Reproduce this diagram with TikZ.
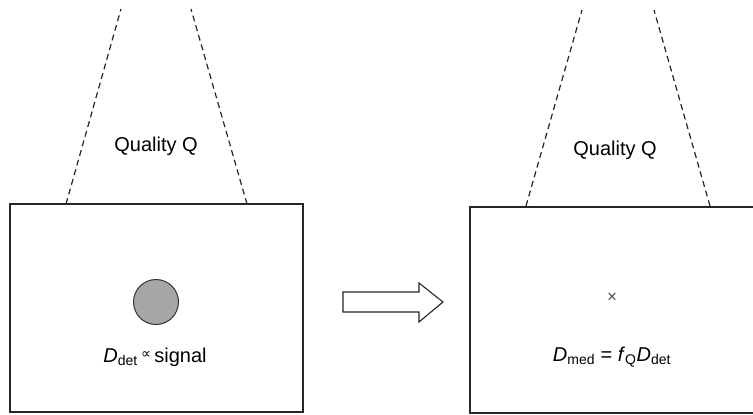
\documentclass[tikz,border=0pt]{standalone}
\usepackage{fontspec}
\setmainfont{Liberation Sans}
\newfontfamily\dejavu{DejaVu Sans}
\begin{document}
\begin{tikzpicture}[x=1pt,y=-1pt,
  frame/.style={draw=black!85, line width=1.3pt},
  cone/.style={draw=black!85, line width=1.2pt, dash pattern=on 6pt off 4pt},
  lbl/.style={font=\fontsize{20}{24}\selectfont, inner sep=0pt},
  spot/.style={circle, draw=black!80, fill=black!35, line width=1pt, minimum size=45pt, inner sep=0pt},
  bigarrow/.style={draw=black!85, line width=1.1pt, fill=white}]
\useasboundingbox (0,0) rectangle (753,415);
% left panel
\draw[frame] (10,204) rectangle (303,412);
\draw[cone] (66,204) -- (121,9);
\draw[cone] (247,204) -- (191,9);
\node[lbl] (q1) at (156,146) {Quality Q};
\node[spot] (c1) at (156,302) {};
\node[lbl] (t1) at (155,357) {\textit{D}\textsubscript{det}\,{\dejavu\raisebox{0.3ex}{\fontsize{14}{14}\selectfont ∝}}\,signal};
% arrow
\draw[bigarrow] (343,292) -- (419,292) -- (419,283) -- (443,302) -- (419,322) -- (419,312) -- (343,312) -- cycle;
% right panel
\draw[frame] (753,207) -- (470,207) -- (470,413) -- (753,413);
\draw[cone] (526,206) -- (582,10);
\draw[cone] (710,206) -- (654,10);
\node[lbl] (q2) at (615,150) {Quality Q};
\node[font=\fontsize{17}{17}\selectfont, text=black!70, inner sep=0pt] (x2) at (612,298) {×};
\node[lbl] (t2) at (612,357) {\textit{D}\textsubscript{med} = \textit{f}\textsubscript{Q}\textit{D}\textsubscript{det}};
\end{tikzpicture}
\end{document}
